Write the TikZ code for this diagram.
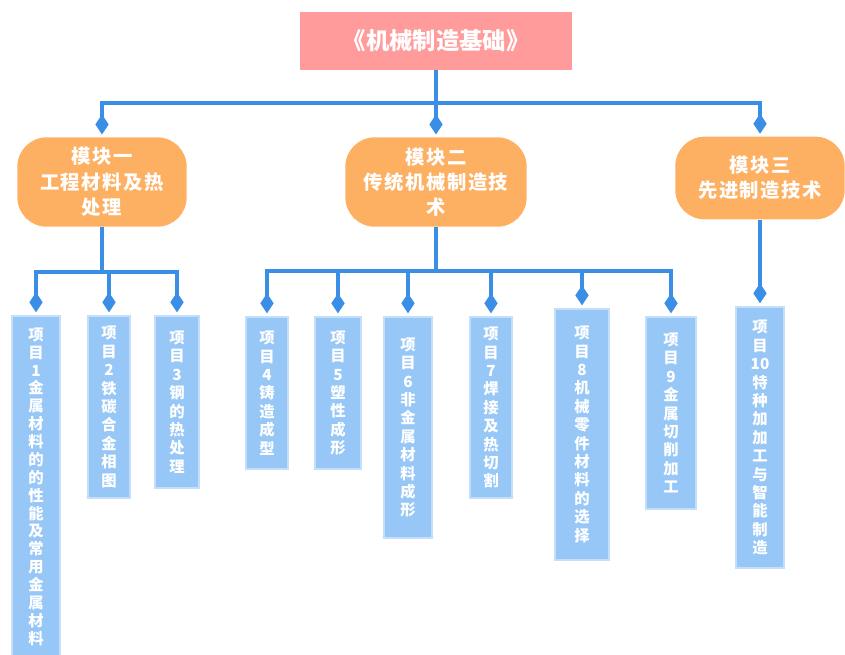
\documentclass[tikz,border=0pt]{standalone}
\usepackage{fontspec}
\setmainfont{Noto Sans CJK SC}
\usetikzlibrary{arrows.meta,positioning}
\definecolor{titlered}{HTML}{FF9B9B}
\definecolor{modorange}{HTML}{FDAF62}
\definecolor{itemblue}{HTML}{96C7F7}
\definecolor{itemedge}{HTML}{C3DFFA}
\definecolor{linkblue}{HTML}{3A8EE6}
\tikzset{
  titlebox/.style={rectangle, fill=titlered, text=white, font=\fontsize{17.5}{21}\selectfont\bfseries, minimum width=204pt, minimum height=43pt},
  modbox/.style={rectangle, rounded corners=22pt, fill=modorange, text=white, font=\fontsize{14.5}{19}\selectfont\bfseries\addfontfeature{LetterSpace=8}, align=center, minimum width=127pt, minimum height=67pt, inner sep=1pt},
  itembox/.style={rectangle, fill=itemblue, draw=itemedge, line width=1.5pt, text=white, font=\fontsize{11.5}{13.8}\selectfont\bfseries, align=center, anchor=north, inner xsep=0pt},
  link/.style={draw=linkblue, line width=3pt, -{Diamond[length=15pt,width=10pt]}, shorten >=2pt}
}
\begin{document}
\begin{tikzpicture}[x=0.75pt, y=-0.75pt]
\clip (0,0) rectangle (845,654);
\useasboundingbox (0,0) rectangle (845,654);
\node[titlebox] (title) at (436,41) {《机械制造基础》};

% modules
\node[modbox] (mod1) at (102,182) {模块一\\工程材料及热\\处理};
\node[modbox, minimum width=136pt] (mod2) at (436,182) {模块二\\传统机械制造技\\术};
\node[modbox, minimum height=62pt] (mod3) at (760,178) {模块三\\先进制造技术};

% items
\node[itembox, minimum width=36pt, minimum height=256pt, font=\fontsize{11.5}{13.4}\selectfont\bfseries] (it1) at (36,315) {项\\目\\1\\金\\属\\材\\料\\的\\的\\性\\能\\及\\常\\用\\金\\属\\材\\料};
\node[itembox, minimum width=31.5pt, minimum height=136.5pt] (it2) at (109,315) {项\\目\\2\\铁\\碳\\合\\金\\相\\图};
\node[itembox, minimum width=33pt, minimum height=129pt] (it3) at (177,315) {项\\目\\3\\钢\\的\\热\\处\\理};
\node[itembox, minimum width=32pt, minimum height=114pt] (it4) at (267,316) {项\\目\\4\\铸\\造\\成\\型};
\node[itembox, minimum width=34.5pt, minimum height=114pt] (it5) at (338,316) {项\\目\\5\\塑\\性\\成\\形};
\node[itembox, minimum width=36pt, minimum height=166pt] (it6) at (408,316) {项\\目\\6\\非\\金\\属\\材\\料\\成\\形};
\node[itembox, minimum width=32pt, minimum height=136pt] (it7) at (491,316) {项\\目\\7\\焊\\接\\及\\热\\切\\割};
\node[itembox, minimum width=40pt, minimum height=188pt] (it8) at (582,308) {项\\目\\8\\机\\械\\零\\件\\材\\料\\的\\选\\择};
\node[itembox, minimum width=37pt, minimum height=144pt] (it9) at (671,316) {项\\目\\9\\金\\属\\切\\削\\加\\工};
\node[itembox, minimum width=36pt, minimum height=196pt] (it10) at (760,306) {项\\目\\10\\特\\种\\加\\加\\工\\与\\智\\能\\制\\造};

\draw[link] (title.south) -- (436,103) -| (mod1.north);
\draw[link] (title.south) -- (mod2.north);
\draw[link] (title.south) -- (436,103) -| (mod3.north);

\draw[link] (mod1.south) -- (102,272) -| (it1.north);
\draw[link] (mod1.south) -- (102,272) -| (it2.north);
\draw[link] (mod1.south) -- (102,272) -| (it3.north);
\foreach \n in {it4,it5,it6,it7,it8,it9}
  \draw[link] (mod2.south) -- (436,271) -| (\n.north);
\draw[link] (mod3.south) -- (it10.north);
\end{tikzpicture}
\end{document}
